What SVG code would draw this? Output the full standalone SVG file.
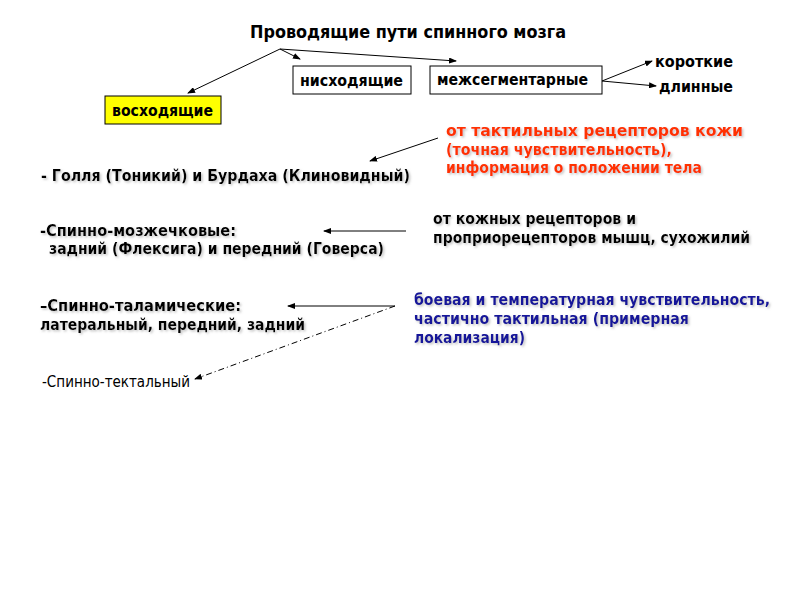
<svg xmlns="http://www.w3.org/2000/svg" width="800" height="600" viewBox="0 0 800 600">
<defs>
<marker id="ah" markerWidth="8" markerHeight="6" refX="7" refY="3" orient="auto" markerUnits="userSpaceOnUse">
<path d="M0,0 L8,3 L0,6 Z" fill="#000"/>
</marker>
<filter id="sh" filterUnits="userSpaceOnUse" x="0" y="0" width="800" height="600">
<feDropShadow dx="1.5" dy="1.5" stdDeviation="0.8" flood-color="#999" flood-opacity="0.6"/>
</filter>
<style>
text{font-family:"DejaVu Sans Condensed","DejaVu Sans","Noto Sans",sans-serif;font-stretch:condensed;font-weight:bold;font-size:16px;fill:#000}
.t{font-size:17px}
.red{fill:#ff3300}
.blue{fill:#16169a}
.n{font-weight:normal}
.s{filter:url(#sh)}
.box{fill:#fff;stroke:#000;stroke-width:1}
.c{stroke:#000;stroke-width:1;fill:none;marker-end:url(#ah)}
</style>
</defs>
<rect width="800" height="600" fill="#fff"/>
<g id="title"><text class="t" x="250" y="38" textLength="316" lengthAdjust="spacingAndGlyphs">Проводящие пути спинного мозга</text></g>
<g id="nishodyashie"><rect class="box" x="293" y="66" width="118" height="28"/><text x="300" y="86" textLength="103" lengthAdjust="spacingAndGlyphs">нисходящие</text></g>
<g id="mezhsegm"><rect class="box" x="430" y="66" width="172" height="28"/><text x="437" y="85" textLength="151" lengthAdjust="spacingAndGlyphs">межсегментарные</text></g>
<g id="voshodyashie"><rect x="105" y="96" width="116" height="28" fill="#ffff00" stroke="#000"/><text x="112" y="116" textLength="101" lengthAdjust="spacingAndGlyphs">восходящие</text></g>
<g id="korotkie"><text x="655" y="67" textLength="78" lengthAdjust="spacingAndGlyphs">короткие</text></g>
<g id="dlinnye"><text x="659" y="92" textLength="74" lengthAdjust="spacingAndGlyphs">длинные</text></g>
<g id="red-note" class="s">
<text class="red" x="446" y="136" textLength="297" lengthAdjust="spacingAndGlyphs">от тактильных рецепторов кожи</text>
<text class="red" x="446" y="155" textLength="226" lengthAdjust="spacingAndGlyphs">(точная чувствительность),</text>
<text class="red" x="446" y="173" textLength="256" lengthAdjust="spacingAndGlyphs">информация о положении тела</text>
</g>
<g id="gollya" class="s"><text x="41" y="181" textLength="369" lengthAdjust="spacingAndGlyphs">- Голля (Тоникий) и Бурдаха (Клиновидный)</text></g>
<g id="kozhnyh" class="s">
<text x="433" y="224" textLength="203" lengthAdjust="spacingAndGlyphs">от кожных рецепторов и</text>
<text x="433" y="243" textLength="317" lengthAdjust="spacingAndGlyphs">проприорецепторов мышц, сухожилий</text>
</g>
<g id="mozzhechk" class="s">
<text x="40" y="236" textLength="196" lengthAdjust="spacingAndGlyphs">-Спинно-мозжечковые:</text>
<text x="49" y="254" textLength="335" lengthAdjust="spacingAndGlyphs">задний (Флексига) и передний (Говерса)</text>
</g>
<g id="talamich" class="s">
<text x="40" y="311" textLength="201" lengthAdjust="spacingAndGlyphs">–Спинно-таламические:</text>
<text x="40" y="330" textLength="265" lengthAdjust="spacingAndGlyphs">латеральный, передний, задний</text>
</g>
<g id="tektal"><text class="n" x="42" y="387" textLength="148" lengthAdjust="spacingAndGlyphs">-Спинно-тектальный</text></g>
<g id="blue-note" class="s">
<text class="blue" x="414" y="305" textLength="356" lengthAdjust="spacingAndGlyphs">боевая и температурная чувствительность,</text>
<text class="blue" x="414" y="324" textLength="275" lengthAdjust="spacingAndGlyphs">частично тактильная (примерная</text>
<text class="blue" x="414" y="343" textLength="111" lengthAdjust="spacingAndGlyphs">локализация)</text>
</g>
<g id="connectors">
<line class="c" x1="280" y1="49" x2="188" y2="93"/>
<line class="c" x1="280" y1="49" x2="300" y2="59"/>
<line class="c" x1="280" y1="49" x2="456" y2="61"/>
<line class="c" x1="602" y1="81" x2="652" y2="61"/>
<line class="c" x1="602" y1="81" x2="656" y2="86"/>
<line class="c" x1="438" y1="138" x2="370" y2="161"/>
<line class="c" x1="406" y1="231" x2="324" y2="231"/>
<line class="c" x1="395" y1="306" x2="288" y2="306"/>
<line class="c" x1="395" y1="306" x2="195" y2="379" stroke-dasharray="6,3,1,3"/>
</g>
</svg>
